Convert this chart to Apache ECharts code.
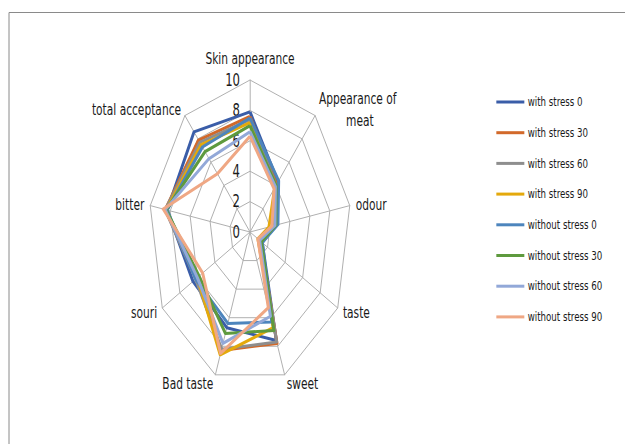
<!DOCTYPE html>
<html><head><meta charset="utf-8">
<script src="https://cdn.jsdelivr.net/npm/echarts@6/dist/echarts.min.js"></script>
<style>
html,body{margin:0;padding:0;overflow:hidden;background:#fff;width:625px;height:444px}
#wrap{width:625px;height:444px;overflow:hidden;position:relative}
#c{width:938px;height:444px;}
#c svg path, #c svg polyline, #c svg polygon, #c svg line, #c svg rect{vector-effect:non-scaling-stroke;}
</style></head><body><div id="wrap"><div id="c"></div></div>
<script>
// Indicators in clockwise order as in the picture (starting at top)
const indicatorNames = ['Skin appearance', 'Appearance of\n        meat', 'odour', 'taste', 'sweet', 'Bad taste', 'souri', 'bitter', 'total acceptance'];
const axisMax = 10;
const seriesNames = ['with stress 0', 'with stress 30', 'with stress 60', 'with stress 90', 'without stress 0', 'without stress 30', 'without stress 60', 'without stress 90'];
const withStress0     = [7.9, 4.3, 2.6, 1.4, 7.6, 6.7, 6.5, 8.3, 8.6];
const withStress30    = [7.6, 4.1, 2.4, 1.2, 7.8, 8.3, 6.1, 8.5, 7.9];
const withStress60    = [7.4, 4.0, 2.3, 1.2, 7.7, 8.2, 6.2, 8.5, 7.7];
const withStress90    = [7.2, 3.8, 1.9, 0.9, 6.7, 8.6, 6.0, 8.4, 7.5];
const withoutStress0  = [7.5, 4.4, 2.8, 1.4, 6.3, 6.4, 6.2, 8.3, 7.3];
const withoutStress30 = [7.0, 4.0, 2.6, 1.3, 6.9, 7.1, 5.8, 8.4, 6.9];
const withoutStress60 = [6.6, 3.9, 2.5, 1.1, 5.9, 7.8, 6.0, 8.5, 6.3];
const withoutStress90 = [6.3, 3.7, 2.2, 0.9, 5.3, 8.5, 5.4, 8.7, 5.0];
const seriesColors = ['#3A5DA8', '#D2692A', '#8E8E8E', '#E4A90C', '#4D85BD', '#5E9A3E', '#92A8D8', '#EFA784'];

const allValues = [withStress0, withStress30, withStress60, withStress90, withoutStress0, withoutStress30, withoutStress60, withoutStress90];

// ECharts radar runs counter-clockwise: reorder so picture order is clockwise
const order = [0, 8, 7, 6, 5, 4, 3, 2, 1];
const S = 625 / 938; // horizontal squeeze of the original picture
const FONT = 'DejaVu Sans';

const indicator = order.map((i, k) => {
  const o = { name: indicatorNames[i], max: axisMax, min: 0 };
  if (k === 0) {
    o.axisLabel = { show: true };
    o.nameTextStyle = { padding: [0, 0, 5, 0] };
  }
  if (i === 1) o.nameTextStyle = { lineHeight: 22 };
  return o;
});

const chart = echarts.init(document.getElementById('c'), null, { renderer: 'svg', width: 938, height: 444 });
chart.setOption({
  animation: false,
  backgroundColor: '#ffffff',
  textStyle: { fontFamily: FONT },
  graphic: [{
    type: 'rect', shape: { x: 9 / S, y: 12.5, width: 2000, height: 1000 },
    style: { fill: 'none', stroke: '#8a8a8a', lineWidth: 1 }, silent: true, z: -10
  }],
  legend: {
    orient: 'vertical',
    left: 493 / S,
    top: 90,
    itemWidth: 28 / S,
    itemHeight: 3,
    itemGap: 16.7,
    icon: 'rect',
    textStyle: { fontFamily: FONT, fontSize: 13, color: '#1a1a1a', lineHeight: 14 },
    data: seriesNames
  },
  radar: {
    center: [250 / S, 232],
    radius: 152,
    startAngle: 90,
    shape: 'polygon',
    splitNumber: 5,
    nameGap: 9,
    axisName: { color: '#1a1a1a', fontSize: 16, fontFamily: FONT },
    axisLine: { lineStyle: { color: '#b0b0b0', width: 1 } },
    splitLine: { lineStyle: { color: '#b0b0b0', width: 1 } },
    splitArea: { show: false },
    axisTick: { show: false },
    axisLabel: { show: false, color: '#1a1a1a', fontSize: 17.5, fontFamily: FONT, margin: 15 },
    indicator: indicator
  },
  series: [{
    type: 'radar',
    symbol: 'none',
    data: allValues.map((vals, j) => ({
      name: seriesNames[j],
      value: order.map(i => vals[i]),
      lineStyle: { color: seriesColors[j], width: 3 },
      itemStyle: { color: seriesColors[j] }
    }))
  }]
});

function squeeze() {
  const svg = document.querySelector('#c svg');
  if (!svg) return;
  svg.setAttribute('viewBox', '0 0 938 444');
  svg.setAttribute('preserveAspectRatio', 'none');
  svg.setAttribute('width', '625');
  svg.style.width = '625px';
}
squeeze();
chart.on('finished', squeeze);
setTimeout(squeeze, 0);
</script></body></html>
